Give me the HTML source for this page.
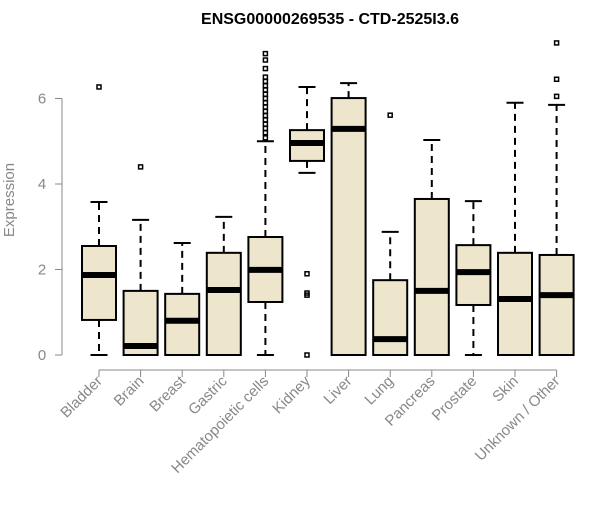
<!DOCTYPE html>
<html><head><meta charset="utf-8"><style>
body{margin:0;background:#fff}
svg text{font-family:"Liberation Sans",Arial,sans-serif}
</style></head><body>
<svg id="c" width="600" height="500" xmlns="http://www.w3.org/2000/svg">
<text x="330" y="24" text-anchor="middle" font-weight="bold" font-size="16">ENSG00000269535 - CTD-2525I3.6</text>
<text transform="translate(14,200) rotate(-90)" text-anchor="middle" font-size="15" fill="#888">Expression</text>
<g id="ax"></g><g id="plot"></g>
</svg>
<script>
const categories=["Bladder","Brain","Breast","Gastric","Hematopoietic cells","Kidney","Liver","Lung","Pancreas","Prostate","Skin","Unknown / Other"];
const lowW=[0,0,0,0,0,4.26,0,0,0,0,0,0];
const q1=[0.82,0,0,0,1.24,4.54,0,0,0,1.17,0,0];
const med=[1.87,0.21,0.8,1.52,1.99,4.96,5.29,0.37,1.5,1.94,1.31,1.4];
const q3=[2.55,1.5,1.43,2.39,2.76,5.26,6.01,1.75,3.65,2.57,2.39,2.34];
const highW=[3.58,3.16,2.62,3.23,5.0,6.27,6.36,2.88,5.03,3.6,5.9,5.85];
const outliers=[[6.27],[4.4],[],[],[5.08,5.2,5.3,5.4,5.5,5.6,5.7,5.8,5.9,6.0,6.1,6.2,6.3,6.4,6.5,6.7,6.9,7.05],[0,1.4,1.45,1.9],[],[5.61],[],[],[],[6.05,6.45,7.3]];
const yTicks=[0,2,4,6];
const NS="http://www.w3.org/2000/svg";
const y=v=>355-42.75*v;
const x=i=>99+i*41.6;
function mk(t,a,p){const e=document.createElementNS(NS,t);for(const k in a)e.setAttribute(k,a[k]);p.appendChild(e);return e;}
const ax=document.getElementById('ax'),pl=document.getElementById('plot');
let yl=mk('line',{x1:62,x2:62,y1:y(6),y2:y(0),stroke:'#888'},ax);


yTicks.forEach(t=>{mk('line',{x1:55,x2:62,y1:y(t),y2:y(t),stroke:'#888'},ax);
 const tx=mk('text',{x:42,y:y(t)+5,'text-anchor':'middle','font-size':15,fill:'#888'},ax);tx.textContent=t;
 
 });
let xl=mk('line',{x1:x(0),x2:x(11),y1:370,y2:370,stroke:'#888'},ax);


categories.forEach((c,i)=>{
 const cx=x(i);
 mk('line',{x1:cx,x2:cx,y1:370,y2:377,stroke:'#888'},ax);
 const tx=mk('text',{transform:`translate(${cx+4},${382}) rotate(-45)`,'text-anchor':'end','font-size':15,fill:'#888'},ax);tx.textContent=c;
 
 
 const g=mk('g',{},pl);
 
 
 const w=17;
 mk('line',{x1:cx,x2:cx,y1:y(q3[i]),y2:y(highW[i]),stroke:'#000','stroke-width':2,'stroke-dasharray':'7,5'},g);
 mk('line',{x1:cx,x2:cx,y1:y(q1[i]),y2:y(lowW[i]),stroke:'#000','stroke-width':2,'stroke-dasharray':'7,5'},g);
 mk('line',{x1:cx-8.5,x2:cx+8.5,y1:y(highW[i]),y2:y(highW[i]),stroke:'#000','stroke-width':2},g);
 mk('line',{x1:cx-8.5,x2:cx+8.5,y1:y(lowW[i]),y2:y(lowW[i]),stroke:'#000','stroke-width':2},g);
 mk('rect',{x:cx-w,y:y(q3[i]),width:2*w,height:Math.max(y(q1[i])-y(q3[i]),0.5),fill:'#ede6cc',stroke:'#000','stroke-width':2},g);
 mk('line',{x1:cx-w,x2:cx+w,y1:y(med[i]),y2:y(med[i]),stroke:'#000','stroke-width':6},g);
 outliers[i].forEach(o=>{const r=mk('rect',{x:cx-2,y:y(o)-2,width:4,height:4,fill:'none',stroke:'#000','stroke-width':1.5},g);
  
  });
});
</script>
</body></html>
